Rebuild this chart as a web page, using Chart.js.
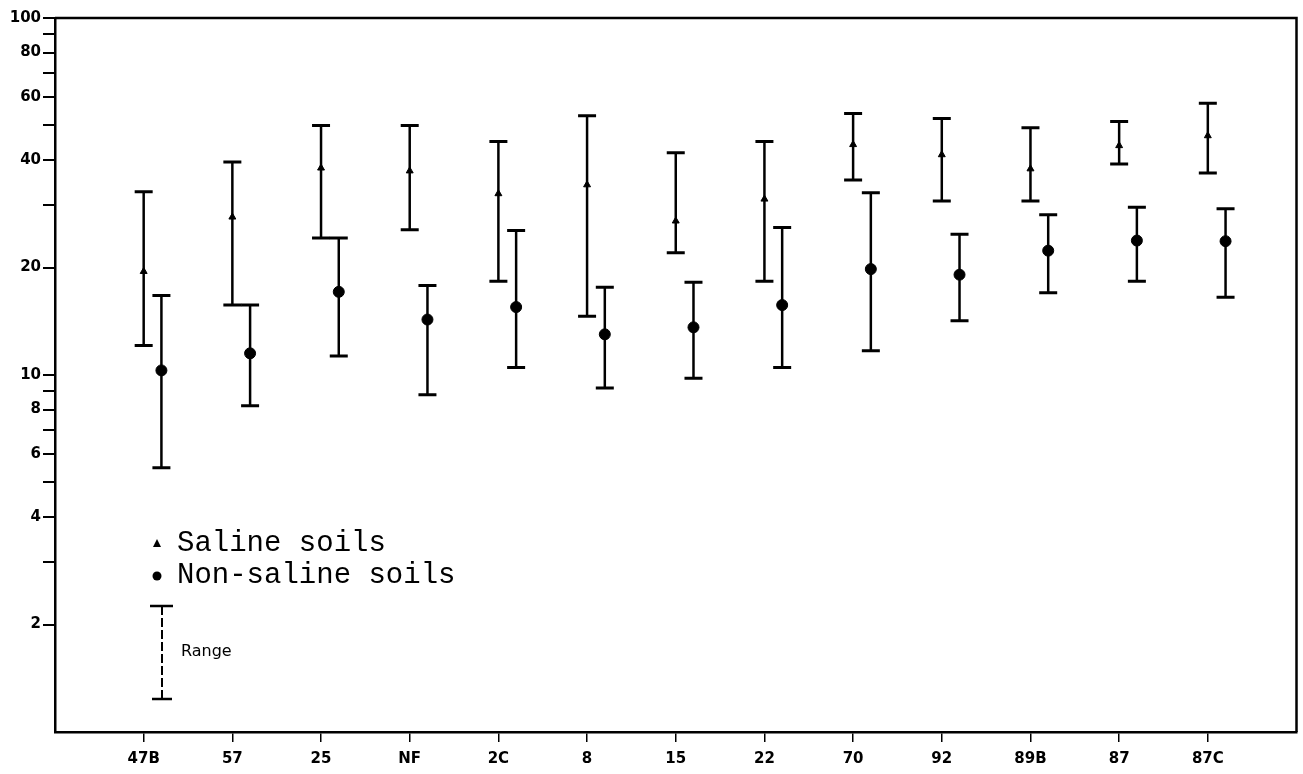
<!DOCTYPE html>
<html>
<head>
<meta charset="utf-8">
<script src="https://cdn.jsdelivr.net/npm/chart.js"></script>
<style>
  * { margin: 0; padding: 0; box-sizing: border-box; }
  html, body { width: 1303px; height: 774px; background: #ffffff; overflow: hidden; }
  #wrap { position: relative; width: 1303px; height: 774px; }
</style>
</head>
<body>
<div id="wrap"><canvas id="chart" width="1303" height="774"></canvas></div>
<script>
// Soil sites along the x axis
const categories = ['47B', '57', '25', 'NF', '2C', '8', '15', '22', '70', '92', '89B', '87', '87C'];

// Saline soils: mean (triangle) and range
const salineMean = [19.5, 27.7, 38, 37.3, 32.2, 34.1, 27.0, 31.1, 44.2, 41.4, 37.8, 43.9, 46.8];
const salineMin  = [12.1, 15.7, 24.2, 25.5, 18.3, 14.6, 22.0, 18.3, 35.2, 30.7, 30.7, 39.0, 36.8];
const salineMax  = [32.6, 39.5, 50, 50, 45.1, 53.2, 41.9, 45.1, 54, 52.3, 49.3, 51.3, 57.7];

// Non-saline soils: mean (dot) and range
const nonSalineMean = [10.3, 11.5, 17.1, 14.3, 15.5, 13.0, 13.6, 15.7, 19.8, 19.1, 22.3, 23.8, 23.7];
const nonSalineMin  = [5.5, 8.2, 11.3, 8.8, 10.5, 9.2, 9.8, 10.5, 11.7, 14.2, 17.0, 18.3, 16.5];
const nonSalineMax  = [16.7, 15.7, 24.2, 17.8, 25.4, 17.6, 18.2, 25.9, 32.4, 24.8, 28.1, 29.5, 29.2];

// y axis ticks (log) and which of them carry a label
const yTicks = [2, 3, 4, 5, 6, 7, 8, 9, 10, 20, 30, 40, 50, 60, 70, 80, 90, 100];
const yLabels = [2, 4, 6, 8, 10, 20, 40, 60, 80, 100];

const NON_SALINE_SHIFT = 0.2; // non-saline bar sits a bit right of its site
const tickFont = { family: 'DejaVu Sans', size: 15, weight: 'bold' };

const salinePts = salineMean.map((v, i) => ({ x: i, y: v, lo: salineMin[i], hi: salineMax[i] }));
const nonSalinePts = nonSalineMean.map((v, i) => ({ x: i + NON_SALINE_SHIFT, y: v, lo: nonSalineMin[i], hi: nonSalineMax[i] }));

// range bars with caps, drawn under the markers
const rangeBars = {
  id: 'rangeBars',
  beforeDatasetsDraw(chart) {
    const { ctx, scales: { x, y } } = chart;
    ctx.save();
    ctx.strokeStyle = '#000';
    chart.data.datasets.forEach(ds => {
      ds.data.forEach(p => {
        const px = x.getPixelForValue(p.x);
        const top = y.getPixelForValue(p.hi);
        const bot = y.getPixelForValue(p.lo);
        ctx.lineWidth = 2.5;
        ctx.beginPath();
        ctx.moveTo(px, top); ctx.lineTo(px, bot);
        ctx.stroke();
        ctx.lineWidth = 3;
        ctx.beginPath();
        ctx.moveTo(px - 9, top); ctx.lineTo(px + 9, top);
        ctx.moveTo(px - 9, bot); ctx.lineTo(px + 9, bot);
        ctx.stroke();
      });
    });
    ctx.restore();
  }
};

// frame on top and right, plus the key in the lower left
const frameAndKey = {
  id: 'frameAndKey',
  afterDraw(chart) {
    const { ctx, chartArea: a } = chart;
    ctx.save();
    ctx.strokeStyle = '#000';
    ctx.lineWidth = 2.5;
    ctx.beginPath();
    ctx.moveTo(a.left, a.top); ctx.lineTo(a.right, a.top); ctx.lineTo(a.right, a.bottom);
    ctx.stroke();

    // key markers
    ctx.fillStyle = '#000';
    ctx.beginPath();
    ctx.moveTo(157, 539); ctx.lineTo(161, 547); ctx.lineTo(153, 547);
    ctx.closePath(); ctx.fill();
    ctx.beginPath();
    ctx.arc(157, 576, 4.5, 0, Math.PI * 2); ctx.fill();

    ctx.font = '29px "Liberation Mono"';
    ctx.textBaseline = 'alphabetic';
    ctx.fillText('Saline soils', 177, 551);
    ctx.fillText('Non-saline soils', 177, 583);

    // range sample
    ctx.lineWidth = 2;
    ctx.setLineDash([9, 3]);
    ctx.beginPath();
    ctx.moveTo(162, 606); ctx.lineTo(162, 699);
    ctx.stroke();
    ctx.setLineDash([]);
    ctx.lineWidth = 2.5;
    ctx.beginPath();
    ctx.moveTo(150, 606); ctx.lineTo(173, 606);
    ctx.moveTo(152, 699); ctx.lineTo(172, 699);
    ctx.stroke();
    ctx.font = '16px "DejaVu Sans"';
    ctx.textBaseline = 'middle';
    ctx.fillText('Range', 181, 652);
    ctx.restore();
  }
};

new Chart(document.getElementById('chart'), {
  type: 'scatter',
  data: {
    datasets: [
      {
        label: 'Saline soils',
        data: salinePts,
        pointStyle: 'triangle',
        pointRadius: 4,
        backgroundColor: '#000',
        borderColor: '#000',
        borderWidth: 1
      },
      {
        label: 'Non-saline soils',
        data: nonSalinePts,
        pointStyle: 'circle',
        pointRadius: 5.5,
        backgroundColor: '#000',
        borderColor: '#000',
        borderWidth: 1
      }
    ]
  },
  options: {
    responsive: false,
    animation: false,
    layout: { padding: { top: 18, right: 6, left: 0, bottom: 0 } },
    plugins: { legend: { display: false }, tooltip: { enabled: false } },
    scales: {
      x: {
        type: 'linear',
        min: -1,
        max: 13,
        afterBuildTicks: s => { s.ticks = categories.map((c, i) => ({ value: i })); },
        afterFit: s => { s.height = 42; },
        ticks: {
          autoSkip: false,
          maxRotation: 0,
          color: '#000',
          font: tickFont,
          padding: 8,
          callback: v => categories[v]
        },
        grid: { drawOnChartArea: false, drawTicks: true, tickLength: 10, tickColor: '#000', lineWidth: 1.5 },
        border: { display: true, color: '#000', width: 2.5 }
      },
      y: {
        type: 'logarithmic',
        min: 1,
        max: 100,
        afterBuildTicks: s => { s.ticks = yTicks.map(v => ({ value: v })); },
        afterFit: s => { s.width = 55; },
        ticks: {
          autoSkip: false,
          color: '#000',
          font: tickFont,
          padding: 2,
          callback: v => (yLabels.includes(v) ? String(v) : '')
        },
        grid: { drawOnChartArea: false, drawTicks: true, tickLength: 12, tickColor: '#000', lineWidth: 2 },
        border: { display: true, color: '#000', width: 2.5 }
      }
    }
  },
  plugins: [rangeBars, frameAndKey]
});
</script>
</body>
</html>
